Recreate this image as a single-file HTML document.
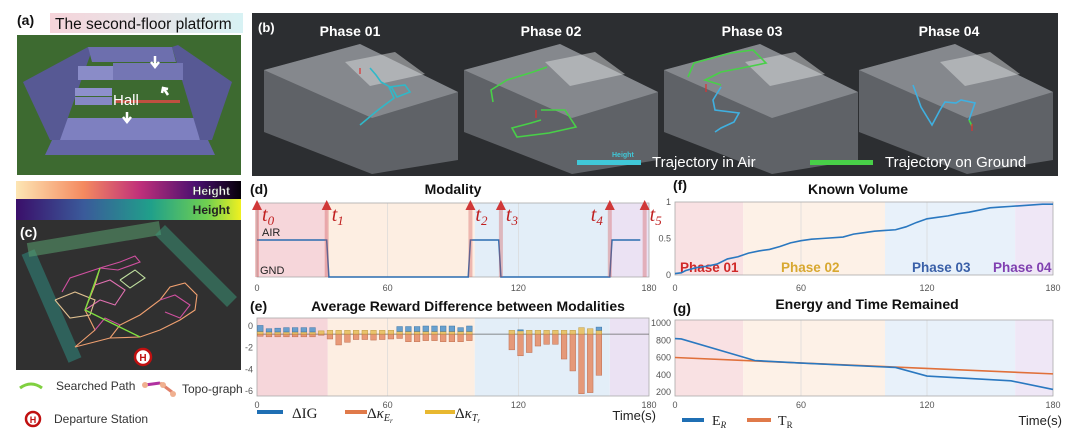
<!DOCTYPE html>
<html><head><meta charset="utf-8"><style>
html,body{margin:0;padding:0;background:#fff;}
svg{display:block;font-family:"Liberation Sans",sans-serif;}
.t{font-weight:bold;font-size:14px;fill:#111;}
.tk{font-size:9px;fill:#555;}
</style></head><body>
<svg id="fig" width="1080" height="436" viewBox="0 0 1080 436" xmlns="http://www.w3.org/2000/svg">
<defs>
<linearGradient id="gWarm" x1="0" x2="1"><stop offset="0" stop-color="#fde6b4"/><stop offset="0.3" stop-color="#f48a60"/><stop offset="0.55" stop-color="#c0307a"/><stop offset="0.8" stop-color="#4a1070"/><stop offset="1" stop-color="#050008"/></linearGradient>
<linearGradient id="gVir" x1="0" x2="1"><stop offset="0" stop-color="#3a0f6a"/><stop offset="0.3" stop-color="#3a5a9a"/><stop offset="0.6" stop-color="#20a08a"/><stop offset="0.85" stop-color="#70d050"/><stop offset="1" stop-color="#f0f020"/></linearGradient>
<linearGradient id="gTitle" x1="0" x2="1"><stop offset="0" stop-color="#f6d4da"/><stop offset="1" stop-color="#d8f2f4"/></linearGradient>
</defs>

<!-- Panel a -->
<g>
<rect x="50" y="13" width="193" height="20" fill="url(#gTitle)"/>
<text x="17" y="25" class="t">(a)</text>
<text x="55" y="29" font-size="15.5" fill="#111">The second-floor platform</text>
<rect x="17" y="35" width="224" height="140" fill="#3d6a30"/>
<polygon points="45,155 215,155 208,140 52,140" fill="#6466a6"/>
<polygon points="58,140 200,140 195,118 63,118" fill="#7e80c0"/>
<polygon points="23,82 88,47 92,50 60,140 50,140" fill="#575994"/>
<polygon points="172,47 178,45 232,82 212,140 200,140" fill="#575994"/>
<polygon points="88,47 172,47 176,62 92,62" fill="#6d6fae"/>
<polygon points="113,63 183,63 183,80 113,80" fill="#7476b4"/>
<polygon points="78,66 113,66 113,80 78,80" fill="#8a8cc8"/>
<rect x="75" y="88" width="37" height="8" fill="#8e90cc"/>
<rect x="75" y="97" width="37" height="8" fill="#8688c4"/>
<rect x="115" y="100" width="65" height="3" fill="#c05040"/>
<text x="113" y="105" font-size="15" fill="#fff">Hall</text>
<path d="M155 56 v10 M151 62 l4 5 l4 -5" stroke="#fff" stroke-width="2.5" fill="none"/>
<path d="M127 112 v9 M123 117 l4 5 l4 -5" stroke="#fff" stroke-width="2.5" fill="none"/>
<path d="M168 95 l-4 -6 M162 93 l1 -5 l5 1" stroke="#fff" stroke-width="2.5" fill="none"/>
</g>

<!-- Colorbars -->
<rect x="16" y="181" width="225" height="18" fill="url(#gWarm)"/>
<text x="230" y="195" text-anchor="end" font-size="12" font-weight="bold" fill="#fff" stroke="#333" stroke-width="0.4">Height</text>
<rect x="16" y="199" width="225" height="21" fill="url(#gVir)"/>
<text x="230" y="214" text-anchor="end" font-size="12" font-weight="bold" fill="#222">Height</text>

<!-- Panel c -->
<g>
<rect x="16" y="220" width="225" height="150" fill="#303030"/>
<path d="M28 252 L75 360" stroke="#2f8a80" stroke-width="14" opacity="0.55" fill="none"/>
<path d="M28 250 L160 228" stroke="#5aa070" stroke-width="14" opacity="0.55" fill="none"/>
<path d="M160 230 L232 302" stroke="#3a9a7a" stroke-width="14" opacity="0.5" fill="none"/>
<text x="20" y="237" class="t" style="fill:#fff">(c)</text>
<g fill="none" stroke-width="1.1">
<polyline points="62,292 70,278 100,268 120,262 135,256 140,262 118,270 100,268" stroke="#d050a0"/>
<polyline points="100,268 95,285 85,310 95,330 75,347 110,338 140,337 160,330 180,320 195,310 197,295 185,283 170,287 160,300 140,315 120,325 110,338" stroke="#f0a070"/>
<polyline points="85,310 100,300 115,305 125,290 110,280 95,285" stroke="#e070b0"/>
<polyline points="55,300 75,292 95,300 90,315 70,318 55,300" stroke="#e0c090"/>
<polyline points="120,280 135,270 145,278 130,288 120,280" stroke="#c0e0a0"/>
<polyline points="160,300 175,295 190,305 180,318 165,312" stroke="#d050a0"/>
<polyline points="95,330 105,318 120,325" stroke="#d050a0"/>
</g>
<polyline points="100,268 85,310 140,337" fill="none" stroke="#80e040" stroke-width="1.3"/>
<circle cx="143" cy="357" r="8" fill="#fff" stroke="#c01010" stroke-width="2.5"/>
<text x="143" y="361" text-anchor="middle" font-size="10" font-weight="bold" fill="#c01010">H</text>
</g>

<!-- Panel c legend -->
<path d="M20 388 q11 -8 22 0" stroke="#80d040" stroke-width="3" fill="none"/>
<text x="56" y="390" font-size="12" fill="#333">Searched Path</text>
<g>
<line x1="145" y1="385" x2="160" y2="383" stroke="#b030a0" stroke-width="3"/><line x1="160" y1="383" x2="172" y2="392" stroke="#e0806a" stroke-width="3"/>
<circle cx="145" cy="385" r="3" fill="#f0b090"/><circle cx="163" cy="385" r="3" fill="#f0b090"/><circle cx="173" cy="394" r="3" fill="#f0b090"/>
</g>
<text x="182" y="393" font-size="12" fill="#333">Topo-graph</text>
<circle cx="33" cy="419" r="7" fill="#fff" stroke="#c01010" stroke-width="2.5"/>
<text x="33" y="423" text-anchor="middle" font-size="9" font-weight="bold" fill="#c01010">H</text>
<text x="54" y="423" font-size="12" fill="#333">Departure Station</text>

<!-- Panel b -->
<g>
<rect x="252" y="13" width="806" height="163" fill="#2c2e31"/>
<g id="boxes"></g>
<text x="258" y="32" font-size="13" font-weight="bold" fill="#fff">(b)</text>
<text x="350" y="36" text-anchor="middle" font-size="14" font-weight="bold" fill="#fff">Phase 01</text>
<text x="551" y="36" text-anchor="middle" font-size="14" font-weight="bold" fill="#fff">Phase 02</text>
<text x="752" y="36" text-anchor="middle" font-size="14" font-weight="bold" fill="#fff">Phase 03</text>
<text x="949" y="36" text-anchor="middle" font-size="14" font-weight="bold" fill="#fff">Phase 04</text>
<g fill="none" stroke-width="1.6">
<polyline points="360,125 378,110 394,98 389,87 405,85 410,92 397,97 392,88 381,82 376,75 370,68" stroke="#30b8c8"/>
<polyline points="493,102 491,90 507,80 533,72 547,67" stroke="#48d048"/>
<polyline points="541,110 565,110 576,127 549,133 517,137 512,128 531,123 541,120" stroke="#48d048"/>
<polyline points="688,77 694,63 731,53 753,50 766,63 747,67 721,72 705,80 721,85" stroke="#48d048"/>
<polyline points="721,87 713,100 715,110 739,113 734,122 721,128 715,132" stroke="#40b0e0"/>
<polyline points="913,85 921,107 932,125 940,110 945,102 956,103 961,100 975,103 969,120" stroke="#40b0e0"/>
<polyline points="969,120 972,126" stroke="#48d048"/>
</g>
<g stroke="#e03030" stroke-width="1.2" fill="none"><path d="M360 68 v6 M536 110 v8 M706 84 v8 M972 124 v7"/></g>
<rect x="577" y="160" width="64" height="5" fill="#40c8d8"/>
<text x="612" y="157" font-size="7" fill="#40c8d8" font-weight="bold">Height</text>
<text x="652" y="167" font-size="15" fill="#fff">Trajectory in Air</text>
<rect x="810" y="160" width="63" height="5" fill="#48d048"/>
<text x="885" y="167" font-size="15" fill="#fff">Trajectory on Ground</text>
</g>

<!-- Chart titles -->
<text x="250" y="194" class="t">(d)</text>
<text x="453" y="194" class="t" text-anchor="middle">Modality</text>
<text x="250" y="311" class="t">(e)</text>
<text x="468" y="311" class="t" text-anchor="middle">Average Reward Difference between Modalities</text>
<text x="673" y="190" class="t">(f)</text>
<text x="858" y="194" class="t" text-anchor="middle">Known Volume</text>
<text x="673" y="313" class="t" font-size="15">(g)</text>
<text x="867" y="309" class="t" text-anchor="middle">Energy and Time Remained</text>

<g id="charts"></g>

<!-- Legends e -->
<rect x="257" y="410" width="26" height="4" fill="#1f6fb4"/>
<text x="292" y="418" font-size="15" font-family="Liberation Serif" fill="#222">ΔIG</text>
<rect x="345" y="410" width="22" height="4" fill="#e07a4a"/>
<text x="367" y="418" font-size="15" font-family="Liberation Serif" fill="#222">Δ<tspan font-style="italic">κ</tspan><tspan font-size="10" font-style="italic" dy="3">E</tspan><tspan font-size="7" font-style="italic" dy="2">r</tspan></text>
<rect x="425" y="410" width="30" height="4" fill="#e8b830"/>
<text x="455" y="418" font-size="15" font-family="Liberation Serif" fill="#222">Δ<tspan font-style="italic">κ</tspan><tspan font-size="10" font-style="italic" dy="3">T</tspan><tspan font-size="7" font-style="italic" dy="2">r</tspan></text>
<text x="656" y="420" text-anchor="end" font-size="13" fill="#222">Time(s)</text>
<rect x="682" y="418" width="22" height="4" fill="#1f6fb4"/>
<text x="712" y="425" font-size="14" font-family="Liberation Serif" fill="#222">E<tspan font-size="9" font-style="italic" dy="3">R</tspan></text>
<rect x="747" y="418" width="24" height="4" fill="#e07a4a"/>
<text x="778" y="425" font-size="14" font-family="Liberation Serif" fill="#222">T<tspan font-size="9" dy="3">R</tspan></text>
<text x="1062" y="425" text-anchor="end" font-size="13" fill="#222">Time(s)</text>
</svg>
<script>
// ---- data ----
const phaseStarts = [0, 32.5, 100, 162];
const phaseEnds = [32.5, 100, 162, 180];
const xTicks = [0, 60, 120, 180];
const modeT = [0, 32, 33, 97, 98, 111, 112, 162, 163, 176];
const modeV = [0.5, 0.5, 0, 0, 0.5, 0.5, 0, 0, 0.5, 0.5];
const eventT = [0, 32, 98, 112, 162, 178];
const eventLabels = ["0", "1", "2", "3", "4", "5"];
const barT = [1.5,5.5,9.5,13.5,17.5,21.5,25.5,29.5,33.5,37.5,41.5,45.5,49.5,53.5,57.5,61.5,65.5,69.5,73.5,77.5,81.5,85.5,89.5,93.5,97.5,117,121,125,129,133,137,141,145,149,153,157];
const igVals = [.55,.3,.35,.4,.4,.4,.4,0,0,0,0,0,0,0,0,0,.45,.45,.45,.5,.5,.5,.5,.35,.5, 0,.1,0,0,0,0,0,0,0,0,.3];
const kTVals = [.25,.2,.2,.2,.2,.2,.2,.3,.35,.35,.35,.35,.35,.35,.35,.35,.25,.25,.25,.25,.25,.25,.25,.25,.25, .35,.3,.35,.35,.35,.35,.35,.35,.6,.5,.35];
const kEVals = [.2,.25,.25,.25,.25,.25,.25,.1,.45,1.0,.75,.5,.5,.55,.5,.45,.4,.7,.7,.6,.6,.7,.7,.7,.6, 1.45,2.0,1.7,1.1,.94,.94,2.3,3.4,5.5,5.4,3.8];
const eBase = -0.75;
const eTicks = [0, -2, -4, -6];
const volT = [0,3,5,10,15,20,25,30,35,40,45,50,55,60,65,70,80,85,90,95,100,105,110,115,120,125,130,135,140,145,150,155,160,165,170,175,180];
const volV = [.02,.03,.06,.1,.12,.15,.22,.25,.3,.33,.35,.39,.44,.47,.49,.5,.52,.56,.58,.6,.61,.62,.66,.72,.77,.79,.81,.84,.86,.89,.92,.93,.94,.95,.96,.97,.97];
const volTicks = [1, 0.5, 0];
const volTickLabels = ["1", "0.5", "0"];
const erT = [0, 3, 38, 60, 100, 105, 120, 160, 180];
const erV = [820, 815, 565, 535, 490, 485, 385, 330, 230];
const trT = [0, 180];
const trV = [600, 410];
const gTicks = [1000, 800, 600, 400, 200];
const phaseColorsD = ["#f6d6da", "#fdeee2", "#e3eef8", "#ebe2f3"];
const phaseColorsF = ["#f9e1e3", "#fdf1e7", "#e8f1fa", "#efe7f6"];
const phaseNames = ["Phase 01", "Phase 02", "Phase 03", "Phase 04"];
const phaseTextColors = ["#d02828", "#d8a830", "#3a60a8", "#8040b0"];

const NS = "http://www.w3.org/2000/svg";
const root = document.getElementById("charts");
function mk(tag, attrs, parent, text) {
  const e = document.createElementNS(NS, tag);
  for (const k in attrs) e.setAttribute(k, attrs[k]);
  if (text !== undefined) e.textContent = text;
  (parent || root).appendChild(e);
  return e;
}
function lin(d0, d1, r0, r1) { return v => r0 + (v - d0) / (d1 - d0) * (r1 - r0); }

const xd = lin(0, 180, 257, 649);
const yd = lin(0, 1, 277, 203);
const ye = v => 326 - v * 10.83;
const xf = lin(0, 180, 675, 1053);
const yf = lin(0, 1, 275, 202);
const yg = v => 323 + (1000 - v) * 0.08625;

function bands(x, top, bot, colors, name) {
  phaseStarts.forEach((s, i) => {
    const r = mk("rect", {x: x(s), y: top, width: x(phaseEnds[i]) - x(s), height: bot - top, fill: colors[i]});
    
    
  });
  xTicks.slice(1, 3).forEach(t => mk("line", {x1: x(t), x2: x(t), y1: top, y2: bot, stroke: "#d8d8d8", "stroke-width": 0.7}));
  mk("rect", {x: x(0), y: top, width: x(180) - x(0), height: bot - top, fill: "none", stroke: "#aaa", "stroke-width": 0.8});
}
function xLabels(x, y, name) {
  xTicks.forEach(t => {
    const tx = mk("text", {x: x(t), y: y, "text-anchor": "middle", class: "tk"}, root, String(t));
    
    
  });
}

// ---- (d) Modality ----
bands(xd, 203, 277, phaseColorsD, "d");
xLabels(xd, 291, "d");
mk("text", {x: 262, y: 236, "font-size": 11, fill: "#222"}, root, "AIR");
mk("text", {x: 260, y: 274, "font-size": 11, fill: "#222"}, root, "GND");
const mline = mk("polyline", {points: modeT.map((t, i) => xd(t) + "," + yd(modeV[i])).join(" "), fill: "none", stroke: "#2a6cb0", "stroke-width": 1.5});


eventT.forEach((t, i) => {
  const g = mk("g", {});
  
  
  const x = xd(t);
  mk("rect", {x: x - 2, y: 206, width: 4, height: 71, fill: "#d05050", opacity: 0.35}, g);
  mk("polygon", {points: (x - 5) + ",210 " + (x + 5) + ",210 " + x + ",200", fill: "#d03838"}, g);
  const lx = i === 4 ? x - 19 : x + 5;
  const tx = mk("text", {x: lx, y: 221, "font-size": 20, "font-style": "italic", "font-family": "Liberation Serif, serif", fill: "#c02020"}, g, "t");
  mk("tspan", {"font-size": 13, dy: 4}, tx, eventLabels[i]);
});

// ---- (e) Reward bars ----
bands(xd, 318, 396, phaseColorsD, "e");
xLabels(xd, 408, "e");
mk("line", {x1: xd(0), x2: xd(180), y1: ye(eBase), y2: ye(eBase), stroke: "#666", "stroke-width": 0.8});
const bw = (xd(4) - xd(0)) * 0.65;
barT.forEach((t, i) => {
  const x = xd(t) - bw / 2;
  const b0 = ye(eBase), bT = ye(eBase + kTVals[i]), bI = ye(eBase + kTVals[i] + igVals[i]), bE = ye(eBase - kEVals[i]);
  const r1 = mk("rect", {x: x, y: b0, width: bw, height: bE - b0, fill: "#e6906c", stroke: "#b86040", "stroke-width": 0.5, opacity: 0.9});
  
  
  const r2 = mk("rect", {x: x, y: bT, width: bw, height: b0 - bT, fill: "#e8c060", stroke: "#b89030", "stroke-width": 0.5, opacity: 0.9});
  
  
  if (igVals[i] > 0) {
    const r3 = mk("rect", {x: x, y: bI, width: bw, height: bT - bI, fill: "#5a98cc", stroke: "#2a6aa0", "stroke-width": 0.5, opacity: 0.9});
    
    
  }
});
eTicks.forEach(v => mk("text", {x: 253, y: ye(v) + 3, "text-anchor": "end", class: "tk"}, root, String(v)));

// ---- (f) Known Volume ----
bands(xf, 202, 275, phaseColorsF, "f");
xLabels(xf, 291, "f");
volTicks.forEach((v, i) => mk("text", {x: 671, y: yf(v) + 3, "text-anchor": "end", class: "tk"}, root, volTickLabels[i]));
phaseNames.forEach((n, i) => {
  const tx = mk("text", {x: [680, 781, 912, 993][i], y: 272, "font-size": 13.5, "font-weight": "bold", fill: phaseTextColors[i]}, root, n);
  
  
});
const vl = mk("polyline", {points: volT.map((t, i) => xf(t) + "," + yf(volV[i])).join(" "), fill: "none", stroke: "#2a78c0", "stroke-width": 1.6});



// ---- (g) Energy and time ----
bands(xf, 320, 396, phaseColorsF, "g");
xLabels(xf, 408, "g");
gTicks.forEach(v => mk("text", {x: 671, y: yg(v) + 3, "text-anchor": "end", class: "tk"}, root, String(v)));
const tl = mk("polyline", {points: trT.map((t, i) => xf(t) + "," + yg(trV[i])).join(" "), fill: "none", stroke: "#e0703a", "stroke-width": 1.6});


const el = mk("polyline", {points: erT.map((t, i) => xf(t) + "," + yg(erV[i])).join(" "), fill: "none", stroke: "#2a78c0", "stroke-width": 1.6});



// ---- panel b boxes ----
const bx = document.getElementById("boxes");
[0, 200, 400, 595].forEach((o, i) => {
  const g = mk("g", {}, bx);
  
  
  mk("polygon", {points: [[264,70],[360,44],[458,92],[458,160],[372,174],[264,132]].map(p => (p[0] + o) + "," + p[1]).join(" "), fill: "#8a8e94", opacity: 0.55}, g);
  mk("polygon", {points: [[264,70],[360,44],[458,92],[372,118]].map(p => (p[0] + o) + "," + p[1]).join(" "), fill: "#b4b8bc", opacity: 0.45}, g);
  mk("polygon", {points: [[345,62],[395,52],[425,74],[370,86]].map(p => (p[0] + o) + "," + p[1]).join(" "), fill: "#dadcde", opacity: 0.5}, g);
});
</script>
</body></html>
